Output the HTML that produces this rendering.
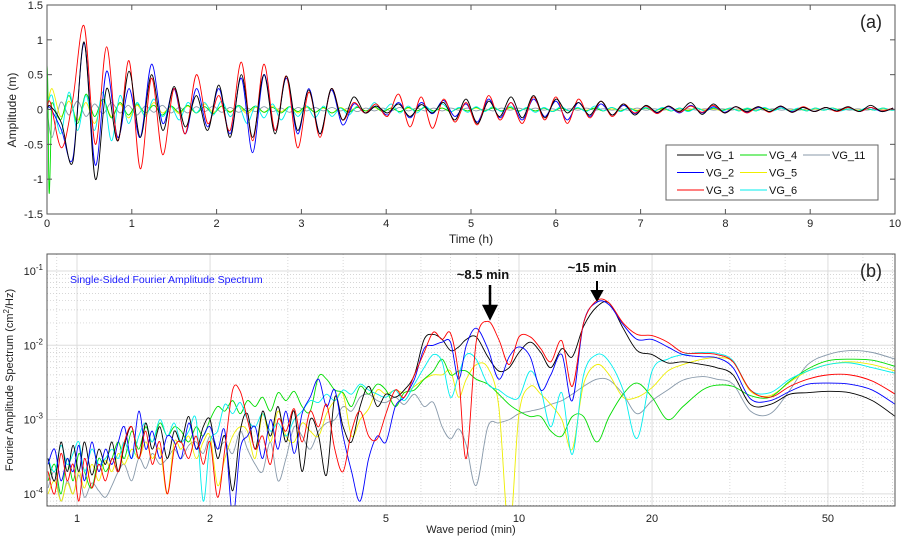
<!DOCTYPE html>
<html><head><meta charset="utf-8">
<style>
html,body{margin:0;padding:0;background:#fff;}
svg{display:block;font-family:"Liberation Sans",sans-serif;}
</style></head>
<body>
<svg id="fig" width="901" height="539" viewBox="0 0 901 539">
<defs>
<clipPath id="clipA"><rect x="47" y="5" width="848" height="209"/></clipPath>
<clipPath id="clipB"><rect x="47" y="254" width="848" height="252"/></clipPath>
</defs>
<g id="panelA"></g>
<g id="panelB"></g>
</svg>
<script>
// ---------- Panel (a) data ----------
const tsNames = ["VG_1","VG_2","VG_3","VG_4","VG_5","VG_6","VG_11"];
const tsColors = ["#000000","#0000ff","#ff0000","#00dd00","#eeee00","#00eeee","#8899aa"];
const mainT0 = 0.04, mainDt = 0.1325;
const vg1 = [0.05,-0.2,-0.75,0.97,-1.0,0.3,-0.45,0.55,-0.4,0.5,-0.3,0.33,-0.25,0.2,-0.3,0.35,-0.4,0.5,-0.4,0.5,-0.35,0.48,-0.3,0.28,-0.35,0.3,-0.15,0.18,-0.05,0.05,-0.05,0.08,-0.1,0.07,-0.05,0.1,-0.15,0.15,-0.2,0.12,-0.1,0.18,-0.12,0.2,-0.12,0.15,-0.05,0.1,-0.08,0.12,-0.08,0.08,-0.08,0.06,-0.04,0.05,-0.03,0.1,-0.07,0.08,-0.05,0.04,-0.03,0.04,-0.03,0.05,-0.04,0.03,-0.03,0.03,-0.02,0.04,-0.03,0.06,-0.03,0.02];
const vg2 = [0.02,-0.3,-0.7,0.95,-0.8,0.55,-0.4,0.3,-0.4,0.65,-0.2,0.3,-0.35,0.3,-0.25,0.3,-0.35,0.45,-0.62,0.5,-0.3,0.45,-0.35,0.3,-0.35,0.28,-0.22,0.08,-0.05,0.05,-0.08,0.1,-0.12,0.1,-0.06,0.13,-0.1,0.08,-0.18,0.15,-0.12,0.1,-0.15,0.15,-0.1,0.12,-0.15,0.1,-0.1,0.08,-0.08,0.06,-0.06,0.05,-0.05,0.04,-0.05,0.06,-0.05,0.04,-0.04,0.04,-0.04,0.03,-0.03,0.04,-0.03,0.03,-0.03,0.03,-0.02,0.03,-0.03,0.03,-0.03,0.02];
const vg3 = [0.1,-0.55,0.15,1.2,-0.5,0.9,-0.45,0.7,-0.85,0.45,-0.65,0.3,-0.35,0.5,-0.2,0.2,-0.3,0.68,-0.45,0.65,-0.3,0.48,-0.55,0.25,-0.4,0.3,-0.15,0.1,-0.05,0.08,-0.1,0.22,-0.25,0.18,-0.27,0.15,-0.18,0.1,-0.22,0.2,-0.15,0.1,-0.2,0.18,-0.15,0.18,-0.2,0.15,-0.12,0.12,-0.1,0.08,-0.05,0.05,-0.06,0.05,-0.04,0.05,-0.04,0.06,-0.05,0.04,-0.05,0.04,-0.04,0.05,-0.04,0.04,-0.03,0.03,-0.03,0.03,-0.03,0.03,-0.02,0.02];
const minorT0 = 0.0, minorDt = 0.1;
const greenStartT = [0,0.01,0.025,0.05];
const greenStartV = [0.65,0.3,-1.2,-0.2];
const vg4 = [0.1,-0.15,0.2,-0.2,0.22,-0.1,0.15,-0.12,0.1,-0.08,0.08,-0.05,0.06,-0.08,0.05,-0.04,0.06,-0.05,0.04,-0.06,0.05,-0.04,0.06,-0.03,0.05,-0.04,0.03,-0.05,0.04,-0.03,0.05,-0.04,0.03,-0.05,0.02,-0.04,0.03,-0.02,0.04,-0.03,0.02,-0.03,0.03,-0.02,0.03,-0.02,0.02,-0.03,0.02,-0.02,0.03,-0.02,0.02,-0.02,0.03,-0.02,0.02,-0.02,0.02,-0.03,0.02,-0.02,0.02,-0.02,0.02,-0.02,0.03,-0.02,0.02,-0.02,0.02,-0.02,0.02,-0.02,0.02,-0.02,0.02,-0.02,0.02,-0.01,0.02,-0.02,0.01,-0.02,0.02,-0.01,0.02,-0.02,0.01,-0.02,0.02,-0.01,0.02,-0.01,0.01,-0.02,0.01,-0.01,0.02,-0.01,0.01];
const vg5 = [0.3,-0.1,0.12,-0.15,0.1,-0.2,0.12,-0.1,0.08,-0.12,0.06,-0.08,0.1,-0.05,0.04,-0.06,0.05,-0.05,0.08,-0.04,0.05,-0.03,0.04,-0.06,0.03,-0.04,0.05,-0.03,0.04,-0.05,0.03,-0.04,0.02,-0.05,0.03,-0.03,0.04,-0.02,0.03,-0.03,0.02,-0.03,0.02,-0.02,0.03,-0.02,0.02,-0.03,0.02,-0.02,0.02,-0.02,0.03,-0.02,0.02,-0.02,0.02,-0.02,0.02,-0.02,0.02,-0.02,0.02,-0.01,0.02,-0.02,0.01,-0.02,0.02,-0.01,0.02,-0.02,0.01,-0.02,0.01,-0.01,0.02,-0.01,0.01,-0.02,0.01,-0.01,0.02,-0.01,0.01,-0.01,0.02,-0.01,0.01,-0.01,0.01,-0.01,0.02,-0.01,0.01,-0.01,0.01,-0.01,0.01,-0.01,0.01];
const vg6 = [0.2,-0.35,0.25,-0.3,0.2,-0.3,0.25,-0.45,0.2,-0.2,0.1,-0.1,0.15,-0.1,0.05,-0.15,0.1,-0.05,0.1,-0.08,0.12,-0.1,0.05,-0.2,0.05,-0.12,0.08,-0.15,0.04,-0.1,0.05,-0.12,0.05,-0.1,0.02,-0.08,0.05,-0.05,0.1,-0.02,0.08,-0.05,0.05,-0.05,0.05,-0.04,0.08,-0.03,0.03,-0.04,0.04,-0.03,0.04,-0.03,0.05,-0.03,0.03,-0.04,0.03,-0.03,0.04,-0.02,0.03,-0.03,0.05,-0.02,0.03,-0.03,0.02,-0.03,0.03,-0.02,0.03,-0.02,0.02,-0.03,0.02,-0.02,0.03,-0.02,0.02,-0.02,0.02,-0.02,0.03,-0.02,0.02,-0.02,0.02,-0.02,0.02,-0.01,0.02,-0.02,0.01,-0.02,0.02,-0.01,0.02,-0.01,0.01];
const vg11 = [-0.4,0.1,-0.08,0.12,-0.1,0.08,-0.06,0.1,-0.05,0.06,-0.08,0.05,-0.04,0.06,-0.05,0.03,-0.05,0.04,-0.03,0.05,-0.04,0.03,-0.04,0.02,-0.03,0.04,-0.03,0.02,-0.04,0.03,-0.02,0.03,-0.02,0.03,-0.02,0.02,-0.03,0.02,-0.02,0.02,-0.02,0.03,-0.02,0.02,-0.02,0.02,-0.02,0.02,-0.01,0.02,-0.02,0.01,-0.02,0.02,-0.01,0.02,-0.01,0.02,-0.01,0.01,-0.02,0.01,-0.01,0.02,-0.01,0.01,-0.01,0.01,-0.01,0.02,-0.01,0.01,-0.01,0.01,-0.01,0.01,-0.01,0.01,-0.01,0.01,-0.01,0.01,-0.01,0.01,-0.01,0.01,-0.01,0.01,-0.01,0.01,-0.01,0.01,-0.01,0.01,-0.01,0.01,-0.01,0.01,-0.01,0.01,-0.01];
const aXTicks = [0,1,2,3,4,5,6,7,8,9,10];
const aYTicks = [-1.5,-1,-0.5,0,0.5,1,1.5];

// ---------- Panel (b) data ----------
const periods = [0.86,0.89,0.92,0.95,0.98,1.01,1.04,1.08,1.12,1.16, 1.2,1.24,1.28,1.33,1.38,1.43,1.48,1.54,1.6,1.66, 1.72,1.79,1.86,1.93,2.0,2.08,2.16,2.25,2.34,2.43, 2.53,2.63,2.74,2.85,2.97,3.1,3.23,3.37,3.52,3.67, 3.83,4.0,4.18,4.37,4.57,4.78,5.0,5.25,5.5,5.8, 6.1,6.4,6.7,7.0,7.3,7.6,8.0,8.5,9.0,9.5, 10,10.6,11.2,11.8,12.5,13.2,14,15,16,17.2, 18.5,20,21.7,23.5,26,28,30.5,33.4,37,41, 45,50,56,63,71];
const sp1 = [3e-4,1.5e-4,5e-4,2e-4,4.5e-4,2e-4,5e-4,1.8e-4,4e-4,2.5e-4, 5e-4,2e-4,4.5e-4,8e-4,3e-4,9e-4,4e-4,8e-4,3e-4,7e-4, 5e-4,1.1e-3,4e-4,8e-4,1e-3,3e-4,6e-4,1.1e-4,7e-4,1.2e-3, 4e-4,1.3e-3,6e-4,1.5e-3,5e-4,1.3e-3,2e-4,1e-3,6e-4,1.8e-4, 2e-3,8e-4,5e-4,1.5e-3,2.8e-3,1.5e-3,2.2e-3,2e-3,2.5e-3,4e-3, 0.012,0.014,0.012,0.0085,0.0095,0.012,0.013,0.007,0.0045,0.005, 0.008,0.011,0.008,0.005,0.009,0.007,0.018,0.033,0.037,0.017, 0.0085,0.0075,0.0058,0.006,0.0055,0.005,0.004,0.0016,0.0016,0.0022, 0.0023,0.0024,0.0023,0.0018,0.0011];
const sp2 = [2.5e-4,4e-4,1.5e-4,3e-4,2e-4,4.5e-4,1.5e-4,5e-4,2e-4,4e-4, 2.5e-4,5e-4,8e-4,3e-4,1.3e-3,4e-4,7e-4,3e-4,6e-4,5e-4, 3e-4,9e-4,4e-4,6e-4,8e-4,4e-4,7e-4,5e-5,4e-4,6e-4, 8e-4,3e-4,1e-3,4e-4,1.3e-3,3.5e-4,1.2e-3,2e-3,3.5e-3,1.5e-3, 2.5e-3,6e-4,2e-4,8e-5,3e-4,6e-4,5e-4,1.5e-3,2e-3,3.5e-3, 0.009,0.01,0.011,0.011,0.0035,0.01,0.017,0.009,0.0035,0.007, 0.0095,0.007,0.0025,0.004,0.0075,0.0018,0.02,0.038,0.035,0.019, 0.012,0.012,0.0095,0.0075,0.007,0.0068,0.005,0.0019,0.0018,0.0024, 0.003,0.0031,0.003,0.0025,0.0016];
const sp3 = [2e-4,1e-4,3.5e-4,1.5e-4,2.5e-4,8e-5,3e-4,1.2e-4,2.5e-4,1.5e-4, 3e-4,2e-4,5e-4,8e-4,3e-4,7e-4,2.5e-4,5e-4,1e-4,4e-4, 5e-4,3e-4,6e-4,2.5e-4,5e-4,9e-5,4e-4,2.5e-3,2.4e-3,1e-3, 4e-4,6e-4,2.5e-4,1e-3,7e-4,1.4e-3,5e-4,1.3e-3,8e-4,1.6e-3, 4e-4,2e-4,7e-4,1.3e-3,6e-4,5.5e-4,1.2e-3,2.5e-3,2e-3,4e-3, 0.008,0.015,0.012,0.0145,0.004,0.0003,0.011,0.021,0.012,0.0055, 0.013,0.013,0.009,0.006,0.0115,0.0028,0.02,0.04,0.037,0.02, 0.014,0.0135,0.011,0.008,0.0078,0.0075,0.006,0.0025,0.002,0.0028, 0.0035,0.004,0.004,0.0033,0.0022];
const sp4 = [1.5e-4,2.5e-4,1e-4,3e-4,1.5e-4,3.5e-4,2e-4,1.2e-4,3e-4,2e-4, 3e-4,5e-4,3e-4,7e-4,4e-4,8e-4,5e-4,9e-4,6e-4,8e-4, 7e-4,5e-4,8e-4,6e-4,1e-3,1.5e-3,1.3e-3,1.8e-3,1.2e-3,1.8e-3, 1.5e-3,2e-3,1.3e-3,2.3e-3,1.8e-3,2.4e-3,1.5e-3,1.3e-3,3.8e-3,3.5e-3, 2.5e-3,2.3e-3,1.5e-3,2.8e-3,2.2e-3,3e-3,2.5e-3,1.5e-3,2.3e-3,2.5e-3, 0.0035,0.0045,0.0065,0.004,0.0045,0.0045,0.0035,0.003,0.0022,0.0016, 0.0013,0.0011,0.0011,0.0007,0.0006,0.0011,0.0011,0.0005,0.0011,0.0022, 0.0031,0.002,0.001,0.0015,0.0025,0.0029,0.0028,0.0021,0.002,0.0033, 0.0048,0.0062,0.0065,0.0063,0.0052];
const sp5 = [1e-4,1.5e-4,8e-5,1.4e-4,1e-4,2e-4,1.2e-4,2.5e-4,1.5e-4,2.8e-4, 2e-4,3.5e-4,2.5e-4,4e-4,3e-4,5e-4,3e-4,4e-4,1e-4,5e-4, 4e-4,6e-4,3e-4,5e-4,6e-4,1.3e-4,3e-4,6e-4,8e-4,7e-4, 3e-4,1.2e-3,5e-4,1.3e-3,6e-4,5e-4,9e-4,7e-4,6e-4,1.2e-3, 1.8e-3,2.2e-3,6e-4,1e-3,1.4e-3,2.5e-3,2.2e-3,2.5e-3,2.3e-3,2.8e-3, 0.0035,0.004,0.004,0.0045,0.002,0.0035,0.0055,0.005,0.0015,0.00003, 0.0012,0.0028,0.0022,0.0016,0.001,0.0004,0.003,0.0055,0.004,0.002, 0.002,0.0027,0.0045,0.0055,0.0065,0.0068,0.006,0.0024,0.0021,0.0032, 0.0045,0.0055,0.006,0.0055,0.0045];
const sp6 = [3e-4,2e-4,4.5e-4,2.5e-4,3.5e-4,5e-4,2e-4,4e-4,2.5e-4,3e-4, 4e-4,3e-4,5e-4,3e-4,6e-4,9e-4,5e-4,1e-3,6e-4,9e-4, 5e-4,7e-4,1e-3,8e-5,5e-4,7e-4,1.6e-3,1.2e-3,1.7e-3,1e-3, 8e-4,1.2e-3,7e-4,9e-4,6e-4,1e-3,1.3e-3,1.8e-3,1.7e-3,2.2e-3, 1.8e-3,2.5e-3,2.2e-3,3e-3,2.5e-3,2.2e-3,2e-3,2.5e-3,1.8e-3,3e-3, 0.005,0.0075,0.006,0.002,0.004,0.0075,0.0065,0.003,0.0025,0.002, 0.002,0.0045,0.0025,0.0008,0.0023,0.00034,0.004,0.0075,0.006,0.0025, 0.00056,0.0045,0.0065,0.0075,0.008,0.0078,0.0062,0.0025,0.0023,0.0035, 0.0045,0.0055,0.0058,0.005,0.0042];
const sp11 = [1.2e-4,2e-4,8e-5,1.5e-4,1e-4,1.8e-4,9e-5,1.4e-4,1.1e-4,9e-5, 1.3e-4,2e-4,2.5e-4,1.5e-4,3e-4,2.2e-4,3.5e-4,2.5e-4,3e-4,4e-4, 3e-4,4.5e-4,5e-4,3.5e-4,6e-4,4e-4,5e-4,3.5e-4,7e-4,4e-4, 2.5e-4,2e-4,5e-4,1.5e-4,3e-4,8e-4,6e-4,4e-4,7e-4,9e-4, 1e-3,1.5e-3,1.3e-3,2e-3,2.2e-3,1.8e-3,1.7e-3,2e-3,1.6e-3,2.2e-3, 0.0015,0.0017,0.0008,0.00055,0.00075,0.00045,0.00013,0.0008,0.0009,0.001, 0.0012,0.0013,0.0014,0.0016,0.0018,0.0022,0.0028,0.0035,0.0034,0.0022, 0.0012,0.0018,0.0025,0.0034,0.0038,0.0035,0.003,0.0013,0.0012,0.0025, 0.0055,0.0075,0.0085,0.008,0.0065];
const bXTicks = [1,2,5,10,20,50];
const bXTickLabels = ["1","2","5","10","20","50"];
const bYExps = [-1,-2,-3,-4];

// ---------- drawing ----------
const NS = "http://www.w3.org/2000/svg";
function mk(tag, attrs, parent){ const e=document.createElementNS(NS,tag); for(const k in attrs) e.setAttribute(k,attrs[k]); parent.appendChild(e); return e; }
const pa = document.getElementById('panelA');
const pb = document.getElementById('panelB');

const AX0=47, AX1=895, AY0=5, AY1=214;
const xA = t => AX0 + (t-0)/(10-0)*(AX1-AX0);
const yA = v => AY1 - (v+1.5)/3*(AY1-AY0);
const BX0=47, BX1=895, BY0=254, BY1=506;
const xB = p => 77 + 442*Math.log10(p);
const yB = v => 271 - 74.3*(Math.log10(v)+1);

function smoothPath(pts){
  let d = "M"+pts[0][0].toFixed(2)+","+pts[0][1].toFixed(2);
  for(let i=0;i<pts.length-1;i++){
    const p0=pts[Math.max(0,i-1)], p1=pts[i], p2=pts[i+1], p3=pts[Math.min(pts.length-1,i+2)];
    const c1x=p1[0]+(p2[0]-p0[0])/6, c1y=p1[1]+(p2[1]-p0[1])/6;
    const c2x=p2[0]-(p3[0]-p1[0])/6, c2y=p2[1]-(p3[1]-p1[1])/6;
    d+=" C"+c1x.toFixed(2)+","+c1y.toFixed(2)+" "+c2x.toFixed(2)+","+c2y.toFixed(2)+" "+p2[0].toFixed(2)+","+p2[1].toFixed(2);
  }
  return d;
}

const fa = mk('rect',{x:AX0,y:AY0,width:AX1-AX0,height:AY1-AY0,fill:'#fff',stroke:'none'},pa);



const ga = mk('g',{'clip-path':'url(#clipA)'},pa);



function tsPoints(vals,t0,dt){ return vals.map((v,i)=>[xA(t0+i*dt), yA(v)]); }
const minorSeries = [[vg11,6],[vg5,4],[vg4,3],[vg6,5]];
minorSeries.forEach(([vals,ci])=>{
  let pts = tsPoints(vals,minorT0+0.06,minorDt);
  if(ci===3){ pts = greenStartT.map((t,i)=>[xA(t),yA(greenStartV[i])]).concat(pts); }
  else { pts = [[xA(0),yA(0)]].concat(pts); }
  const p = mk('path',{d:smoothPath(pts),fill:'none',stroke:tsColors[ci],'stroke-width':0.9},ga);
  
  
});
[[vg2,1],[vg3,2],[vg1,0]].forEach(([vals,ci])=>{
  const pts = [[xA(0),yA(0)]].concat(tsPoints(vals,mainT0,mainDt));
  const p = mk('path',{d:smoothPath(pts),fill:'none',stroke:tsColors[ci],'stroke-width':0.9},ga);
  
  
});

const fa2 = mk('rect',{x:AX0,y:AY0,width:AX1-AX0,height:AY1-AY0,fill:'none',stroke:'#555','stroke-width':1},pa);



aXTicks.forEach(t=>{
  const x=xA(t);
  mk('line',{x1:x,y1:AY1,x2:x,y2:AY1-5,stroke:'#555'},pa);
  mk('line',{x1:x,y1:AY0,x2:x,y2:AY0+5,stroke:'#555'},pa);
  const tx=mk('text',{x:x,y:AY1+13,'font-size':11,'text-anchor':'middle',fill:'#222'},pa);
  tx.textContent=String(t);
  
  
});
aYTicks.forEach(v=>{
  const y=yA(v);
  mk('line',{x1:AX0,y1:y,x2:AX0+5,y2:y,stroke:'#555'},pa);
  mk('line',{x1:AX1,y1:y,x2:AX1-5,y2:y,stroke:'#555'},pa);
  const tx=mk('text',{x:AX0-4,y:y+4,'font-size':11,'text-anchor':'end',fill:'#222'},pa);
  tx.textContent=String(v);
  
  
});
let t1=mk('text',{x:471,y:243,'font-size':12,'text-anchor':'middle',fill:'#222'},pa);
t1.textContent='Time (h)';


let t2=mk('text',{x:16,y:110,'font-size':12,'text-anchor':'middle',fill:'#222',transform:'rotate(-90 16 110)'},pa);
t2.textContent='Amplitude (m)';


let t3=mk('text',{x:882,y:28,'font-size':18,'text-anchor':'end',fill:'#222'},pa);
t3.textContent='(a)';



const lg = mk('g',{},pa);


mk('rect',{x:666,y:145,width:212,height:55,fill:'#fff',stroke:'#666','stroke-width':1},lg);
const legPos = [[0,0],[0,1],[0,2],[1,0],[1,1],[1,2],[2,0]];
tsNames.forEach((n,i)=>{
  const [c,r]=legPos[i];
  const lx=677+c*63, ly=155+r*17.5;
  const e=mk('g',{},lg);
  
  
  mk('line',{x1:lx,y1:ly,x2:lx+27,y2:ly,stroke:tsColors[i],'stroke-width':1},e);
  const tx=mk('text',{x:lx+29,y:ly+4,'font-size':11,fill:'#111'},e);
  tx.textContent=n;
});

const fb = mk('rect',{x:BX0,y:BY0,width:BX1-BX0,height:BY1-BY0,fill:'#fff'},pb);


const grid = mk('g',{'clip-path':'url(#clipB)'},pb);


for(let dec=-1;dec<=1;dec++){
  for(let m=1;m<=9;m++){
    const p=m*Math.pow(10,dec); const x=xB(p);
    if(x<BX0||x>BX1) continue;
    const major=(m===1||m===2||m===5);
    mk('line',{x1:x,y1:BY0,x2:x,y2:BY1,stroke:major?'#dddddd':'#c8c8c8','stroke-width':major?1:0.7,'stroke-dasharray':major?'none':'1,2'},grid);
  }
}
for(let dec=-5;dec<=-1;dec++){
  for(let m=1;m<=9;m++){
    const v=m*Math.pow(10,dec); const y=yB(v);
    if(y<BY0||y>BY1) continue;
    mk('line',{x1:BX0,y1:y,x2:BX1,y2:y,stroke:m===1?'#dddddd':'#c8c8c8','stroke-width':m===1?1:0.7,'stroke-dasharray':m===1?'none':'1,2'},grid);
  }
}
const gb = mk('g',{'clip-path':'url(#clipB)'},pb);


const spec = [[sp11,6],[sp5,4],[sp4,3],[sp6,5],[sp1,0],[sp2,1],[sp3,2]];
spec.forEach(([vals,ci])=>{
  const pts = vals.map((v,i)=>[xB(periods[i]), yB(v)]);
  const p=mk('path',{d:smoothPath(pts),fill:'none',stroke:tsColors[ci],'stroke-width':0.9,'stroke-linejoin':'round'},gb);
  
  
});
const fb2 = mk('rect',{x:BX0,y:BY0,width:BX1-BX0,height:BY1-BY0,fill:'none',stroke:'#555'},pb);


bXTicks.forEach((p,i)=>{
  const x=xB(p);
  const tx=mk('text',{x:x,y:BY1+16,'font-size':11,'text-anchor':'middle',fill:'#222'},pb);
  tx.textContent=bXTickLabels[i];
  
  
});
bYExps.forEach(e=>{
  const y=yB(Math.pow(10,e));
  const tx=mk('text',{x:BX0-4,y:y+4,'font-size':11,'text-anchor':'end',fill:'#222'},pb);
  const a=mk('tspan',{},tx); a.textContent='10';
  const b=mk('tspan',{dy:-5,'font-size':8},tx); b.textContent=String(e);
  
  
});
let t4=mk('text',{x:471,y:533,'font-size':11,'text-anchor':'middle',fill:'#222'},pb);
t4.textContent='Wave period (min)';


let t5=mk('text',{x:13,y:380,'font-size':11,'text-anchor':'middle',fill:'#222',transform:'rotate(-90 13 380)'},pb);
const s1=mk('tspan',{},t5); s1.textContent='Fourier Amplitude Spectrum (cm';
const s2=mk('tspan',{dy:-4,'font-size':8},t5); s2.textContent='2';
const s3=mk('tspan',{dy:4},t5); s3.textContent='/Hz)';


let t6=mk('text',{x:70,y:283,'font-size':10.5,fill:'#1a1aff'},pb);
t6.textContent='Single-Sided Fourier Amplitude Spectrum';


let t7=mk('text',{x:882,y:277,'font-size':18,'text-anchor':'end',fill:'#222'},pb);
t7.textContent='(b)';



let a1=mk('text',{x:483,y:279,'font-size':13,'font-weight':'bold','text-anchor':'middle',fill:'#111'},pb);
a1.textContent='~8.5 min';


let ar1=mk('path',{d:'M490,285 L490,308 M484,306 L490,318 L496,306 Z',stroke:'#000','stroke-width':2.5,fill:'#000'},pb);


let a2=mk('text',{x:592,y:272,'font-size':13,'font-weight':'bold','text-anchor':'middle',fill:'#111'},pb);
a2.textContent='~15 min';


let ar2=mk('path',{d:'M597,281 L597,292 M592,291 L597,300 L602,291 Z',stroke:'#000','stroke-width':2,fill:'#000'},pb);


</script>
</body></html>
